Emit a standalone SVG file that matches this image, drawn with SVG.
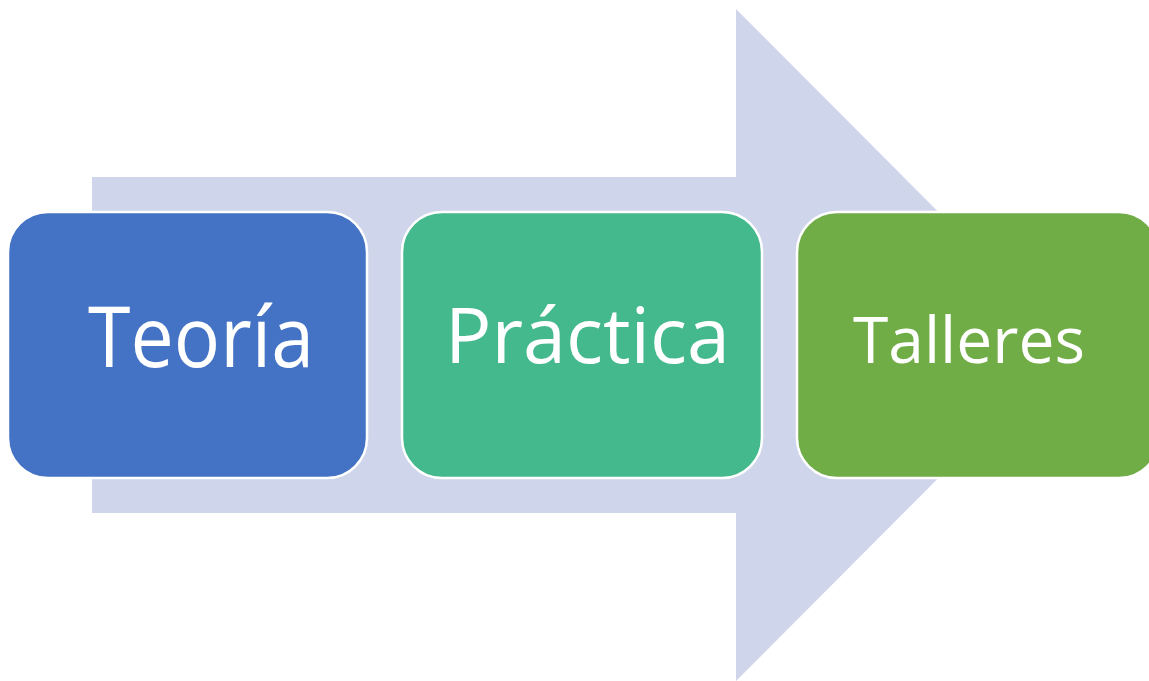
<svg xmlns="http://www.w3.org/2000/svg" width="1149" height="681" viewBox="0 0 1149 681">
<style>
.box{stroke:#ffffff;stroke-width:2.5}
.lbl{font-family:"Open Sans","Noto Sans",sans-serif;fill:#ffffff}
</style>
<rect width="1149" height="681" fill="#ffffff"/>
<g id="connectors">
<polygon id="arrow" points="92,177 736,177 736,9 1071,345 736,681 736,513 92,513" fill="#CFD5EA"/>
</g>
<g id="teoria">
<rect class="box" x="8" y="212" width="359" height="266" rx="40" ry="40" fill="#4472C4"/>
<text class="lbl" x="88" y="367" font-size="84" textLength="226" lengthAdjust="spacingAndGlyphs">Teoría</text>
</g>
<g id="practica">
<rect class="box" x="402" y="212" width="360" height="266" rx="40" ry="40" fill="#43B98D"/>
<text class="lbl" x="445" y="363" font-size="76" textLength="285" lengthAdjust="spacingAndGlyphs">Práctica</text>
</g>
<g id="talleres">
<rect class="box" x="797" y="212" width="362" height="266" rx="40" ry="40" fill="#70AD47"/>
<text class="lbl" x="853" y="363" font-size="64" textLength="232" lengthAdjust="spacingAndGlyphs">Talleres</text>
</g>
</svg>
